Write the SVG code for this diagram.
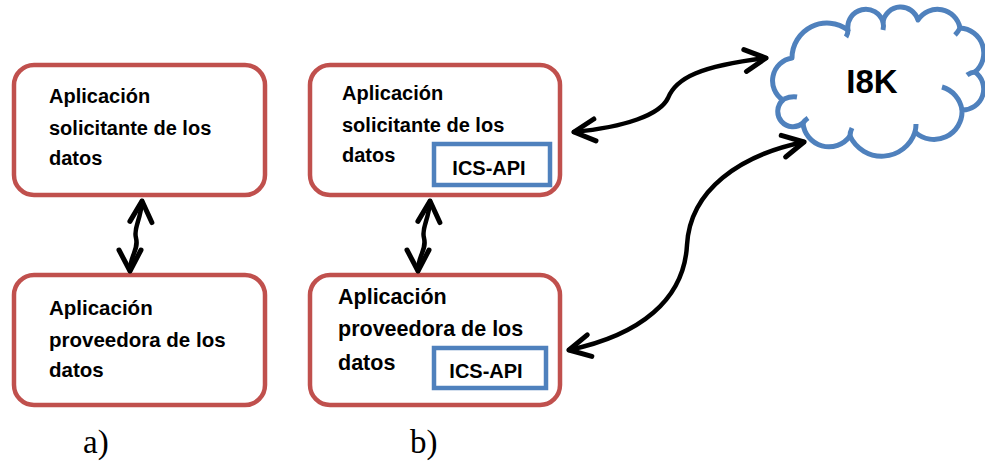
<svg xmlns="http://www.w3.org/2000/svg" width="985" height="463" viewBox="0 0 985 463">
  <style>
    .box { fill: #ffffff; stroke: #C0504D; stroke-width: 4.5; }
    .api { fill: #ffffff; stroke: #4F81BD; stroke-width: 4.5; }
    .cloud { fill: #ffffff; stroke: #4F81BD; stroke-width: 5; stroke-linejoin: round; }
    .tick { fill: none; stroke: #4F81BD; stroke-width: 5; stroke-linecap: butt; }
    .t { font-family: "Liberation Sans", Arial, sans-serif; font-weight: bold; fill: #000000; }
    .lbl { font-family: "Liberation Serif", "Times New Roman", serif; font-size: 33px; fill: #000000; }
    .conn { fill: none; stroke: #000000; stroke-width: 4.5; stroke-linecap: round; }
  </style>
  <defs>
    <marker id="chev" markerUnits="userSpaceOnUse" markerWidth="30" markerHeight="30" viewBox="-26 -15 30 30" refX="0" refY="0" orient="auto-start-reverse" overflow="visible">
      <path d="M-21,-11 L0,0 L-21,11" fill="none" stroke="#000000" stroke-width="5" stroke-linecap="round" stroke-linejoin="round"/>
    </marker>
  </defs>
  <rect width="985" height="463" fill="#ffffff"/>

  <g id="node-a-solicitante">
    <rect class="box" x="14" y="65" width="251" height="130" rx="20" ry="20"/>
    <text class="t" font-size="20" x="49" y="103">Aplicación</text>
    <text class="t" font-size="20" x="49" y="135">solicitante de los</text>
    <text class="t" font-size="20" x="49" y="165">datos</text>
  </g>

  <g id="node-a-proveedora">
    <rect class="box" x="14" y="275" width="251" height="130" rx="20" ry="20"/>
    <text class="t" font-size="20.5" x="49" y="315">Aplicación</text>
    <text class="t" font-size="20.5" x="49" y="347">proveedora de los</text>
    <text class="t" font-size="20.5" x="49" y="377">datos</text>
  </g>

  <g id="node-b-solicitante">
    <rect class="box" x="310" y="65" width="250" height="130" rx="20" ry="20"/>
    <text class="t" font-size="20" x="342" y="100">Aplicación</text>
    <text class="t" font-size="20" x="342" y="132">solicitante de los</text>
    <text class="t" font-size="20" x="342" y="162">datos</text>
    <g id="node-b-solicitante-api">
      <rect class="api" x="434" y="144" width="116" height="41"/>
      <text class="t" font-size="20" x="489" y="175" text-anchor="middle">ICS-API</text>
    </g>
  </g>

  <g id="node-b-proveedora">
    <rect class="box" x="310" y="275" width="250" height="130" rx="20" ry="20"/>
    <text class="t" font-size="21.5" x="338" y="304">Aplicación</text>
    <text class="t" font-size="21.5" x="338" y="336">proveedora de los</text>
    <text class="t" font-size="21.5" x="338" y="370">datos</text>
    <g id="node-b-proveedora-api">
      <rect class="api" x="434" y="348" width="112" height="40"/>
      <text class="t" font-size="20" x="486" y="378" text-anchor="middle">ICS-API</text>
    </g>
  </g>

  <g id="node-i8k">
    <path class="cloud" d="M783,100 A23,23 0 0 1 792,58 A35,35 0 0 1 848,30 A18,18 0 0 1 883,22 A18,18 0 0 1 918,20 A23,23 0 0 1 960,28 A25,25 0 0 1 975,72 A21,21 0 0 1 962,110 A28,28 0 0 1 915,132 A35,35 0 0 1 850,136 A26,26 0 0 1 803,123 A15,15 0 0 1 783,100 Z"/>
    <path class="tick" d="M942,87 A28,28 0 0 1 962,110"/>
    <path class="tick" d="M784,99 Q791,96 797,97"/>
    <path class="tick" d="M848,30 Q848,34 846,37"/>
    <path class="tick" d="M883,22 Q884,26 883,30"/>
    <path class="tick" d="M960,28 Q958,32 955,35"/>
    <path class="tick" d="M975,72 Q971,72 967,75"/>
    <path class="tick" d="M915,132 Q916,128 916,124"/>
    <path class="tick" d="M850,136 Q850,132 852,128"/>
    <path class="tick" d="M803,123 Q805,120 808,118"/>
    <text class="t" font-size="33" x="872" y="93" text-anchor="middle">I8K</text>
  </g>

  <g id="connectors">
    <path class="conn" d="M142,201 C141,220 133,228 136,238 C139,250 130,255 130,271" marker-start="url(#chev)" marker-end="url(#chev)"/>
    <path class="conn" d="M430,201 C429,220 421,228 424,238 C427,250 418,255 418,271" marker-start="url(#chev)" marker-end="url(#chev)"/>
    <path class="conn" d="M574,132 C625,127 660,115 668,98 C676,78 700,66 766,58" marker-start="url(#chev)" marker-end="url(#chev)"/>
    <path class="conn" d="M569,350 C640,335 684,300 687,245 C690,190 740,155 804,142" marker-start="url(#chev)" marker-end="url(#chev)"/>
  </g>

  <g id="labels">
    <text class="lbl" x="83" y="453">a)</text>
    <text class="lbl" x="410" y="453">b)</text>
  </g>
</svg>
